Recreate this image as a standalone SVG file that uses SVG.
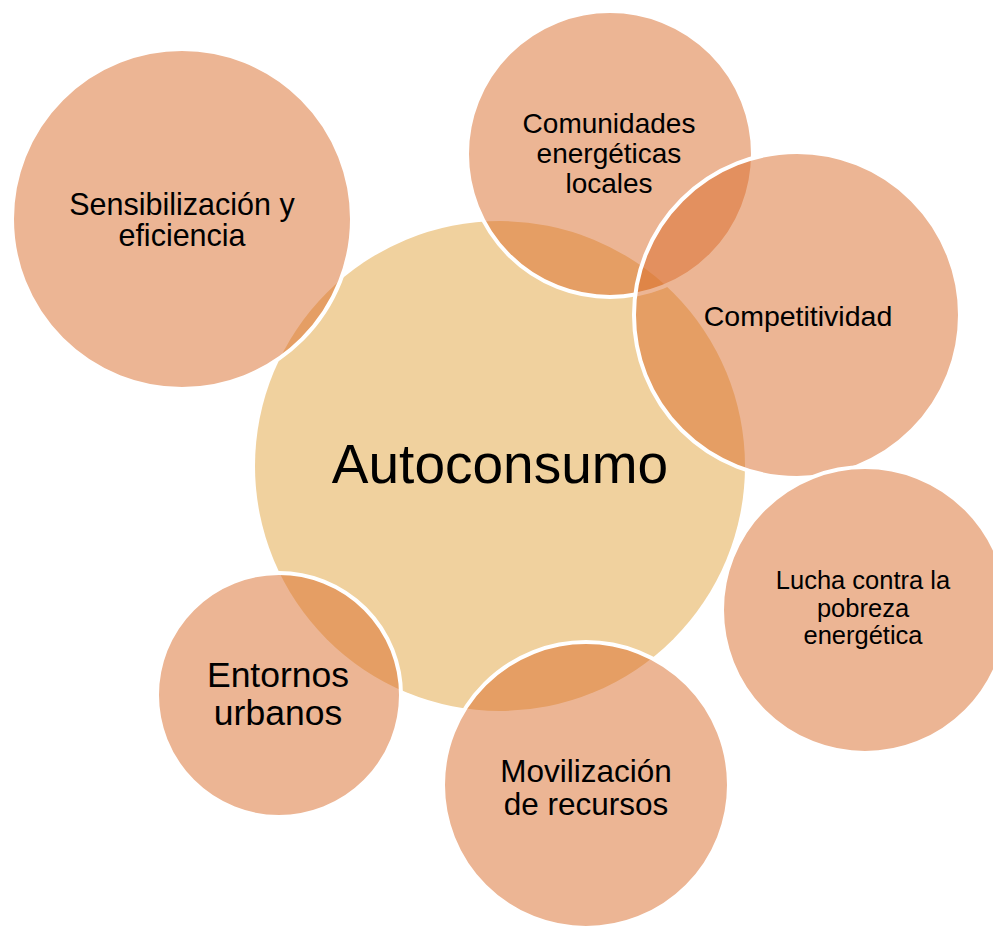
<svg xmlns="http://www.w3.org/2000/svg" width="993" height="928" viewBox="0 0 993 928">
<style>
.bg{fill:#ffffff}
.center{fill:#F0D19E}
.outer{fill:#D96B29;fill-opacity:0.5;stroke:#ffffff;stroke-width:4}
text{font-family:"Liberation Sans",Arial,sans-serif;fill:#000000;text-anchor:middle}
</style>
<rect class="bg" x="0" y="0" width="993" height="928"/>
<g id="connectors"></g>
<g id="autoconsumo">
<circle class="center" cx="500" cy="466" r="245"/>
<text x="500" y="483" font-size="55">Autoconsumo</text>
</g>
<g id="comunidades">
<circle class="outer" cx="610" cy="154" r="143"/>
<text x="609" y="133" font-size="28">Comunidades</text>
<text x="609" y="163" font-size="28">energéticas</text>
<text x="609" y="193" font-size="28">locales</text>
</g>
<g id="competitividad">
<circle class="outer" cx="797" cy="315" r="163"/>
<text x="798" y="326" font-size="28.5">Competitividad</text>
</g>
<g id="lucha">
<circle class="outer" cx="865" cy="610" r="143"/>
<text x="863" y="589" font-size="25.5">Lucha contra la</text>
<text x="863" y="617" font-size="25.5">pobreza</text>
<text x="863" y="644" font-size="25.5">energética</text>
</g>
<g id="movilizacion">
<circle class="outer" cx="586" cy="785" r="143"/>
<text x="586" y="782" font-size="31.5">Movilización</text>
<text x="586" y="815" font-size="31.5">de recursos</text>
</g>
<g id="entornos">
<circle class="outer" cx="279" cy="695" r="122"/>
<text x="278" y="687" font-size="35.5">Entornos</text>
<text x="278" y="725" font-size="35.5">urbanos</text>
</g>
<g id="sensibilizacion">
<circle class="outer" cx="182" cy="219" r="170"/>
<text x="182" y="215" font-size="30.5">Sensibilización y</text>
<text x="182" y="246" font-size="30.5">eficiencia</text>
</g>
</svg>
